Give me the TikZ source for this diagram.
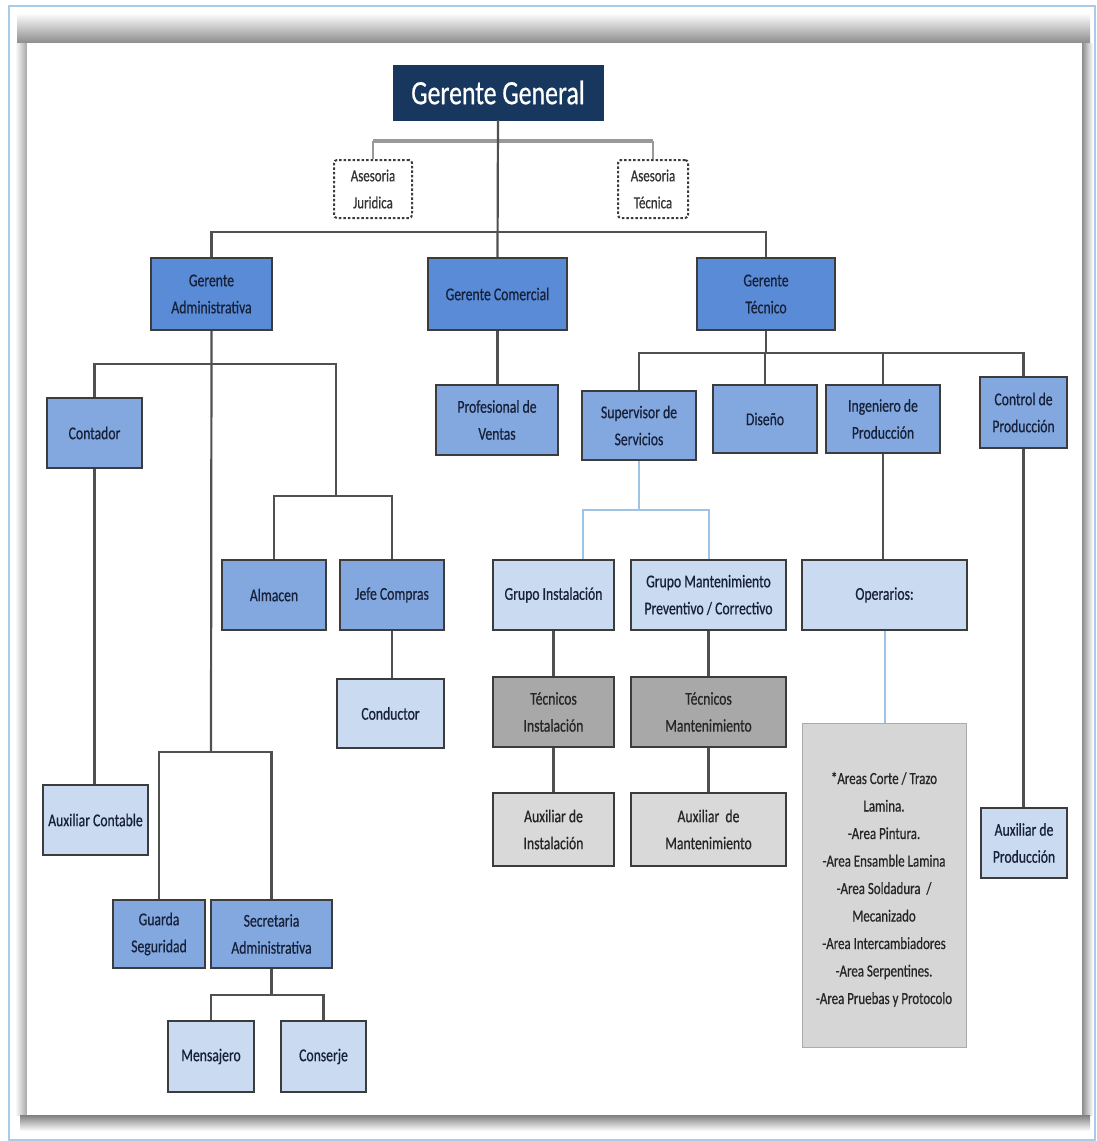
\documentclass[tikz,border=0pt]{standalone}
\usepackage{fontspec}
\setmainfont{Carlito}[FakeStretch=0.76,FakeBold=0.6]
\definecolor{navy}{HTML}{17375E}
\definecolor{gerblue}{HTML}{5A8BD6}
\definecolor{midblue}{HTML}{82A8DF}
\definecolor{lightblue}{HTML}{C9DAF1}
\definecolor{tecgray}{HTML}{A8A8A8}
\definecolor{auxgray}{HTML}{D9D9D9}
\definecolor{areagray}{HTML}{D6D6D6}
\definecolor{edge}{HTML}{3C3C3C}
\definecolor{linecol}{HTML}{505050}
\definecolor{lbline}{HTML}{9DC3E6}
\definecolor{txt}{HTML}{18213A}
\definecolor{frameblue}{HTML}{A9CBE8}
\tikzset{
 box/.style={draw=edge, line width=2pt, align=center, text=txt, font=\fontsize{18}{27}\selectfont, inner sep=1pt},
 gerbox/.style={box, fill=gerblue},
 midbox/.style={box, fill=midblue},
 ltbox/.style={box, fill=lightblue},
 tecbox/.style={box, fill=tecgray, text=black!85},
 auxbox/.style={box, fill=auxgray, text=black!85},
 advbox/.style={box, fill=white, dash pattern=on 2.5pt off 2pt, rounded corners=3pt, text=black!80, font=\fontsize{17}{27}\selectfont},
 areabox/.style={draw=areagray!80!black, line width=0.6pt, fill=areagray, align=center, text=black!85, font=\fontsize{17}{27.5}\selectfont, inner sep=1pt},
 conn/.style={draw=linecol, line width=2.2pt},
 lbconn/.style={draw=lbline, line width=2pt},
 advconn/.style={draw=gray!80, line width=3.5pt},
 advleg/.style={draw=gray!80, line width=2pt},
}
\begin{document}
\begin{tikzpicture}[x=1pt,y=-1pt]
\useasboundingbox (0,0) rectangle (1096,1141);
\fill[white] (0,0) rectangle (1096,1141);
% frame and panel shadow
\draw[frameblue, line width=2pt] (9,6) rectangle (1095,1140);
\shade[top color=white, bottom color=black!45] (17,13) rectangle (1090,43);
\shade[left color=white, right color=black!35] (15,43) rectangle (27,1115);
\shade[left color=black!45, right color=white] (1082,43) rectangle (1093,1115);
\shade[top color=black!50, bottom color=white] (20,1115) rectangle (1090,1131);
\fill[white] (27,43) rectangle (1082,1115);

% top
\node[draw=navy, fill=navy, text=white, font=\fontsize{34}{40}\selectfont, minimum width=210pt, minimum height=55pt] (gg) at (498,92.5) {Gerente General};
\node[advbox, minimum width=78pt, minimum height=58pt] (aj) at (373,189) {Asesoria\\Juridica};
\node[advbox, minimum width=70pt, minimum height=58pt] (at) at (653,189) {Asesoria\\Técnica};

% gerentes
\node[gerbox, minimum width=121pt, minimum height=72pt] (ga) at (211.5,294) {Gerente\\Administrativa};
\node[gerbox, minimum width=139pt, minimum height=72pt] (gc) at (497.5,294) {Gerente Comercial};
\node[gerbox, minimum width=138pt, minimum height=72pt] (gt) at (766,294) {Gerente\\Técnico};

% administrativa
\node[midbox, minimum width=95pt, minimum height=70pt] (cont) at (94.5,433) {Contador};
\node[ltbox, minimum width=105pt, minimum height=70pt] (auxc) at (95.5,820) {Auxiliar Contable};
\node[midbox, minimum width=104pt, minimum height=70pt] (alm) at (274,595) {Almacen};
\node[midbox, minimum width=104pt, minimum height=70pt] (jefe) at (392,595) {Jefe Compras};
\node[ltbox, minimum width=107pt, minimum height=69pt] (cond) at (390.5,713.5) {Conductor};
\node[midbox, minimum width=92pt, minimum height=68pt] (guarda) at (159,934) {Guarda\\Seguridad};
\node[midbox, minimum width=121pt, minimum height=68pt] (secre) at (271.5,934) {Secretaria\\Administrativa};
\node[ltbox, minimum width=86pt, minimum height=71pt] (mens) at (211,1056.5) {Mensajero};
\node[ltbox, minimum width=85pt, minimum height=71pt] (cons) at (323.5,1056.5) {Conserje};

% comercial
\node[midbox, minimum width=122pt, minimum height=70pt] (prof) at (497,420) {Profesional de\\Ventas};

% tecnico
\node[midbox, minimum width=114pt, minimum height=69pt] (sup) at (639,425.5) {Supervisor de\\Servicios};
\node[midbox, minimum width=104pt, minimum height=68pt] (dis) at (765,419) {Diseño};
\node[midbox, minimum width=114pt, minimum height=68pt] (ing) at (883,419) {Ingeniero de\\Producción};
\node[midbox, minimum width=87pt, minimum height=71pt] (ctrl) at (1023.5,412.5) {Control de\\Producción};
\node[ltbox, minimum width=121pt, minimum height=70pt] (gi) at (553.5,595) {Grupo Instalación};
\node[ltbox, minimum width=155pt, minimum height=70pt] (gm) at (708.5,595) {Grupo Mantenimiento\\Preventivo / Correctivo};
\node[tecbox, minimum width=121pt, minimum height=70pt] (ti) at (553.5,712) {Técnicos\\Instalación};
\node[tecbox, minimum width=155pt, minimum height=70pt] (tm) at (708.5,712) {Técnicos\\Mantenimiento};
\node[auxbox, minimum width=121pt, minimum height=73pt] (ai) at (553.5,829.5) {Auxiliar de\\Instalación};
\node[auxbox, minimum width=155pt, minimum height=73pt] (am) at (708.5,829.5) {Auxiliar\ \ de\\Mantenimiento};
\node[ltbox, minimum width=165pt, minimum height=70pt] (op) at (884.5,595) {Operarios:};
\node[areabox, minimum width=164pt, minimum height=324pt, text depth=0pt] (areas) at (884,885) {\rule{0pt}{18pt}*Areas Corte / Trazo\\Lamina.\\-Area Pintura.\\-Area Ensamble Lamina\\-Area Soldadura\ \ /\\Mecanizado\\-Area Intercambiadores\\-Area Serpentines.\\-Area Pruebas y Protocolo};
\node[ltbox, minimum width=86pt, minimum height=70pt] (auxp) at (1024,843) {Auxiliar de\\Producción};

% bus coordinates
\coordinate (abus) at (498,141);
\coordinate (mbus) at (498,232);
\coordinate (ajcorner) at (336,364);
\coordinate (ajbus) at (336,496);
\coordinate (gsbus) at (211,752);
\coordinate (smbus) at (271.5,995);
\coordinate (tbus) at (766,353);
\coordinate (sbus) at (639,510);

% connectors
\draw[advleg] (aj.north) -- (aj.north |- abus);
\draw[advleg] (at.north) -- (at.north |- abus);
\draw[advconn] (aj.north |- abus) -- (at.north |- abus);
\draw[conn] (gg.south) -- (gc.north);
\draw[conn] (ga.north) -- (ga.north |- mbus) -- (gt.north |- mbus) -- (gt.north);

\draw[conn] (ga.south) -- (gsbus);
\draw[conn] (cont.north) |- (ajcorner) -- (ajbus);
\draw[conn] (alm.north) |- (ajbus) -| (jefe.north);
\draw[conn] (cont.south) -- (cont.south |- auxc.north);
\draw[conn] (jefe.south) -- (jefe.south |- cond.north);
\draw[conn] (guarda.north) |- (gsbus) -| (secre.north);
\draw[conn] (secre.south) -- (smbus);
\draw[conn] (mens.north) |- (smbus) -| (cons.north);

\draw[conn] (gc.south) -- (gc.south |- prof.north);

\draw[conn] (gt.south) -- (tbus);
\draw[conn] (sup.north) |- (tbus) -| (ctrl.north);
\draw[conn] (dis.north) -- (dis.north |- tbus);
\draw[conn] (ing.north) -- (ing.north |- tbus);

\draw[lbconn] (sup.south) -- (sbus);
\draw[lbconn] ([xshift=29.5pt]gi.north) |- (sbus) -| (gm.north);
\draw[conn] (gi.south) -- (ti.north);
\draw[conn] (ti.south) -- (ai.north);
\draw[conn] (gm.south) -- (tm.north);
\draw[conn] (tm.south) -- (am.north);

\draw[conn] (ing.south) -- (ing.south |- op.north);
\draw[lbconn] (op.south) -- (op.south |- areas.north);
\draw[conn] (ctrl.south) -- (ctrl.south |- auxp.north);
\end{tikzpicture}
\end{document}
